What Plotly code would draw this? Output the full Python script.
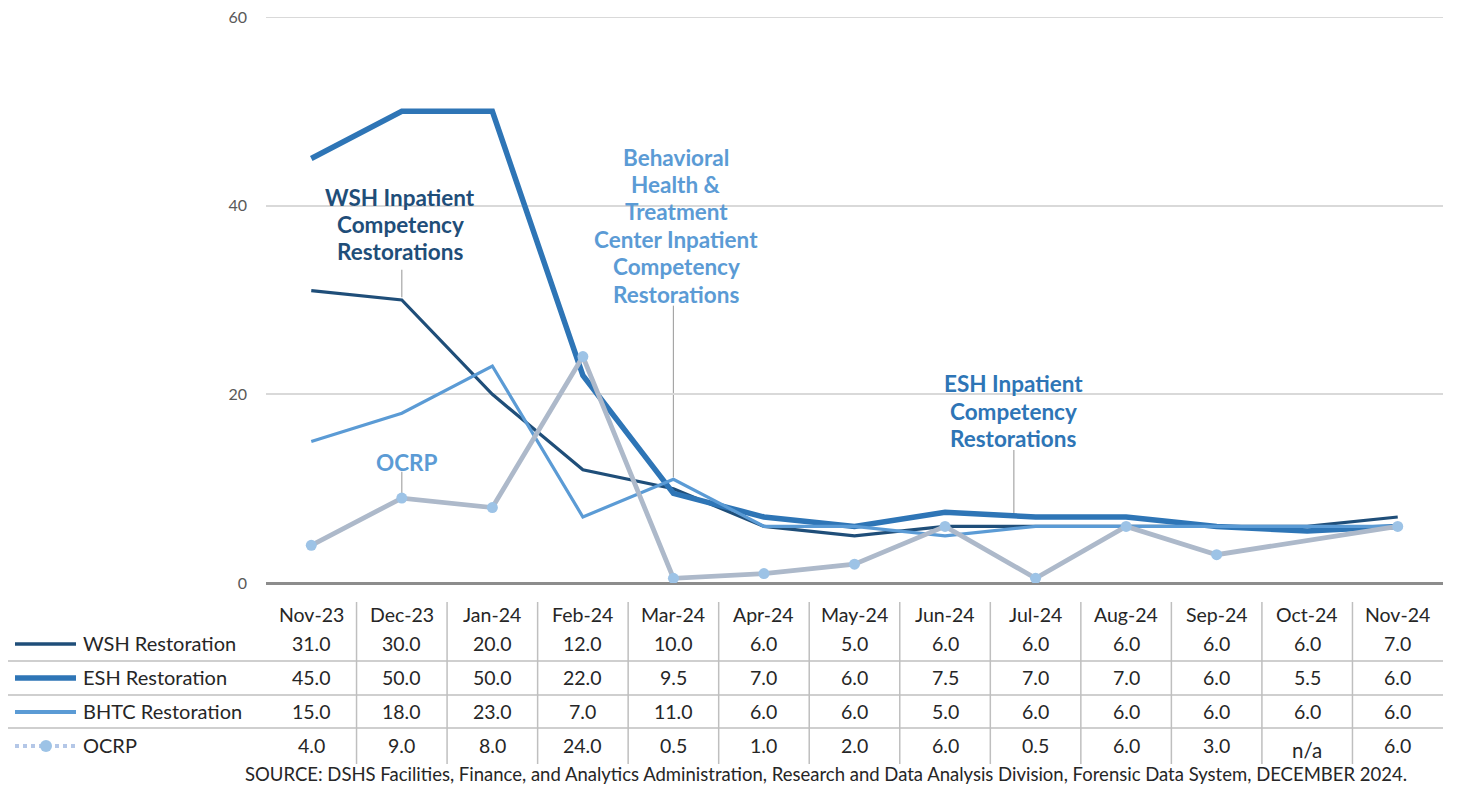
import plotly.graph_objects as go

months = ["Nov-23", "Dec-23", "Jan-24", "Feb-24", "Mar-24", "Apr-24", "May-24",
          "Jun-24", "Jul-24", "Aug-24", "Sep-24", "Oct-24", "Nov-24"]
wsh = [31.0, 30.0, 20.0, 12.0, 10.0, 6.0, 5.0, 6.0, 6.0, 6.0, 6.0, 6.0, 7.0]
esh = [45.0, 50.0, 50.0, 22.0, 9.5, 7.0, 6.0, 7.5, 7.0, 7.0, 6.0, 5.5, 6.0]
bhtc = [15.0, 18.0, 23.0, 7.0, 11.0, 6.0, 6.0, 5.0, 6.0, 6.0, 6.0, 6.0, 6.0]
ocrp = [4.0, 9.0, 8.0, 24.0, 0.5, 1.0, 2.0, 6.0, 0.5, 6.0, 3.0, None, 6.0]
series_names = ["WSH Restoration", "ESH Restoration", "BHTC Restoration", "OCRP"]
y_ticks = [0, 20, 40, 60]
source_text = ("SOURCE: DSHS Facilities, Finance, and Analytics Administration, Research and Data "
               "Analysis Division, Forensic Data System, DECEMBER 2024.")
label_wsh = ["WSH Inpatient", "Competency", "Restorations"]
label_bhtc = ["Behavioral", "Health &", "Treatment", "Center Inpatient", "Competency", "Restorations"]
label_ocrp = ["OCRP"]
label_esh = ["ESH Inpatient", "Competency", "Restorations"]

FONT = "Lato, 'Open Sans', 'DejaVu Sans', sans-serif"
C_WSH = "#1F4E79"
C_ESH = "#2E75B6"
C_BHTC = "#5B9BD5"
C_OCRP_LINE = "#ADB9CA"
C_OCRP_MK = "#9DC3E6"
GRID = "#D9D9D9"
TXT = "#262626"

OFF = 8  # page body margin
W, H = 1459, 788
# plot area in page pixels: x 266..1443, y 17..583
PL, PR, PT, PB = 266, 1443, 17, 583
L = PL - OFF
R = W - (PR - OFF)
T = PT - OFF
B = H - (PB - OFF)
PW = PR - PL
PH = PB - PT


def px(xp):
    return (xp - PL) / PW


def py(yp):
    return (PB - yp) / PH


x = list(range(len(months)))
fig = go.Figure()
fig.add_trace(go.Scatter(x=x, y=wsh, mode="lines", line=dict(color=C_WSH, width=3.2),
                         name=series_names[0]))
fig.add_trace(go.Scatter(x=x, y=esh, mode="lines", line=dict(color=C_ESH, width=5.5),
                         name=series_names[1]))
fig.add_trace(go.Scatter(x=x, y=bhtc, mode="lines", line=dict(color=C_BHTC, width=3.2),
                         name=series_names[2]))
fig.add_trace(go.Scatter(x=x, y=ocrp, mode="lines+markers", connectgaps=True,
                         line=dict(color=C_OCRP_LINE, width=4.8),
                         marker=dict(color=C_OCRP_MK, size=11, line=dict(width=0)),
                         name=series_names[3]))

shapes = []
annotations = []

# top gridline (plotly omits the gridline at the range edge)
shapes.append(dict(type="line", xref="paper", yref="y", x0=0, x1=1,
                   y0=y_ticks[-1], y1=y_ticks[-1], line=dict(color=GRID, width=2),
                   layer="below"))

# leader lines (data coords) and multi-line labels (page pixel layout)
leaders = [
    (1, 30.3, 33.2, C_WSH, label_wsh, 400, 197),
    (4, 11.2, 29.4, C_BHTC, label_bhtc, 676, 157),
    (1, 9.3, 11.8, C_BHTC, label_ocrp, 407, 462),
    (7.76, 7.4, 14.1, C_ESH, label_esh, 1013, 384),
]
for lx, ly0, ly1, col, lines, cx, cy in leaders:
    shapes.append(dict(type="line", xref="x", yref="y", x0=lx, x1=lx, y0=ly0, y1=ly1,
                       line=dict(color="#A6A6A6", width=1.2), layer="below"))
    for k, t in enumerate(lines):
        annotations.append(dict(x=px(cx), y=py(cy + 27.4 * k), xref="paper", yref="paper",
                                text="<b>" + t + "</b>", showarrow=False,
                                xanchor="center", yanchor="middle",
                                font=dict(family=FONT, size=22.5, color=col)))

# data table
TS = 19.5
row_y = [614, 643, 677, 711, 745]
for i, m in enumerate(months):
    annotations.append(dict(x=i, y=py(row_y[0]), xref="x", yref="paper", text=m,
                            showarrow=False, xanchor="center", yanchor="middle",
                            font=dict(family=FONT, size=TS, color=TXT)))
table_vals = [wsh, esh, bhtc, ocrp]
for r, vals in enumerate(table_vals):
    for i, v in enumerate(vals):
        if v is None:
            annotations.append(dict(x=i, y=py(row_y[r + 1] + 5), xref="x", yref="paper",
                                    text="n/a", showarrow=False, xanchor="center",
                                    yanchor="middle",
                                    font=dict(family=FONT, size=20.5, color=TXT)))
        else:
            annotations.append(dict(x=i, y=py(row_y[r + 1]), xref="x", yref="paper",
                                    text=f"{v:.1f}", showarrow=False, xanchor="center",
                                    yanchor="middle",
                                    font=dict(family=FONT, size=TS, color=TXT)))
    annotations.append(dict(x=px(81), y=py(row_y[r + 1]), xref="paper", yref="paper",
                            text=series_names[r], showarrow=False, xanchor="left",
                            yanchor="middle",
                            font=dict(family=FONT, size=20, color=TXT)))

# legend keys
key_styles = [(C_WSH, 3.5), (C_ESH, 5.5), (C_BHTC, 4)]
for r, (col, wdt) in enumerate(key_styles):
    yy = py(row_y[r + 1] + 1)
    shapes.append(dict(type="line", xref="paper", yref="paper", x0=px(15), x1=px(76),
                       y0=yy, y1=yy, line=dict(color=col, width=wdt)))
yy = py(row_y[4] + 1)
shapes.append(dict(type="line", xref="paper", yref="paper", x0=px(15), x1=px(76),
                   y0=yy, y1=yy, line=dict(color="#B4C7E7", width=4, dash="dot")))
shapes.append(dict(type="circle", xref="paper", yref="paper", x0=px(40), x1=px(52),
                   y0=py(row_y[4] + 7), y1=py(row_y[4] - 5),
                   fillcolor=C_OCRP_MK, line=dict(width=0)))

# table grid
for yl in [661, 695, 728]:
    shapes.append(dict(type="line", xref="paper", yref="paper", x0=px(7), x1=1,
                       y0=py(yl), y1=py(yl), line=dict(color="#BFBFBF", width=1.5)))
for i in range(len(months) - 1):
    shapes.append(dict(type="line", xref="x", yref="paper", x0=i + 0.5, x1=i + 0.5,
                       y0=py(602), y1=py(764), line=dict(color="#BFBFBF", width=1.5)))

annotations.append(dict(x=px(826), y=py(774), xref="paper", yref="paper", text=source_text,
                        showarrow=False, xanchor="center", yanchor="middle",
                        font=dict(family=FONT, size=18.5, color=TXT)))

fig.update_layout(
    width=W, height=H,
    margin=dict(l=L, r=R, t=T, b=B, autoexpand=False),
    paper_bgcolor="white", plot_bgcolor="white",
    showlegend=False, hovermode=False,
    shapes=shapes, annotations=annotations,
    xaxis=dict(range=[-0.5, len(months) - 0.5], showticklabels=False, showgrid=False,
               zeroline=False, showline=False, fixedrange=True),
    yaxis=dict(range=[0, 60], tickvals=y_ticks, showgrid=True, gridcolor=GRID, gridwidth=2,
               zeroline=True, zerolinecolor="#8C8C8C", zerolinewidth=2.5,
               tickfont=dict(family=FONT, size=16, color="#595959"), ticklen=0,
               ticks="", ticklabelstandoff=18, ticklabeloverflow="allow",
               showline=False, fixedrange=True),
)

fig.write_html("out.html")
